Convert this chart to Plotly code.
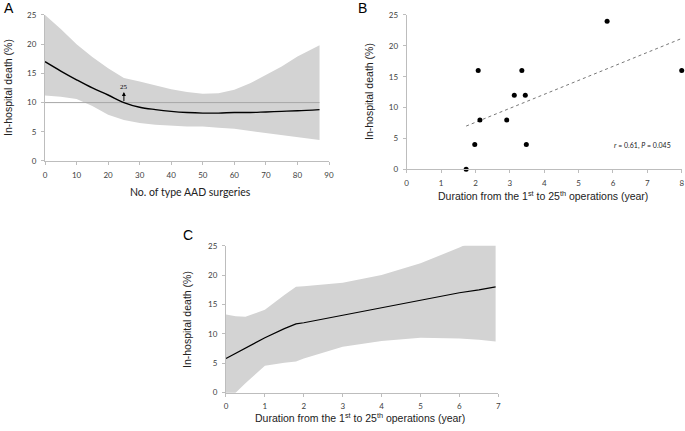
import plotly.graph_objects as go

# Panel A: mortality vs number of surgeries (spline fit with CI)
a_x = [0, 5, 10, 15, 20, 25, 30, 35, 40, 45, 50, 55, 60, 65, 70, 75, 80, 87]
a_fit = [17.0, 15.4, 13.9, 12.5, 11.3, 10.0, 9.2, 8.8, 8.5, 8.3, 8.2, 8.2, 8.3, 8.3, 8.4, 8.5, 8.6, 8.8]
a_upper = [25.0, 22.6, 20.0, 17.8, 15.9, 14.2, 13.6, 12.9, 12.3, 11.8, 11.5, 11.6, 12.2, 13.3, 14.7, 16.2, 17.9, 19.8]
a_lower = [11.2, 11.0, 10.6, 9.4, 7.9, 7.0, 6.5, 6.2, 6.0, 5.9, 5.9, 5.7, 5.5, 5.2, 4.8, 4.5, 4.1, 3.6]
a_ref = 10
a_mark = 25

# Panel B: duration vs mortality scatter
b_x = [1.73, 1.98, 2.08, 2.13, 2.91, 3.13, 3.35, 3.45, 3.48, 5.83, 8.0]
b_y = [0, 4, 16, 8, 8, 12, 16, 12, 4, 24, 16]
b_trend_x = [1.73, 8.0]
b_trend_y = [7.0, 21.2]

# Panel C: duration vs mortality (fit with CI)
c_x = [0, 0.25, 0.5, 1.0, 1.5, 1.8, 2.0, 3.0, 4.0, 5.0, 6.0, 6.5, 6.93]
c_fit = [5.8, 6.7, 7.6, 9.35, 10.9, 11.7, 11.9, 13.2, 14.5, 15.8, 17.0, 17.5, 18.0]
c_upper = [13.3, 13.0, 12.9, 14.1, 16.6, 18.0, 18.1, 18.7, 20.0, 22.0, 24.7, 26.2, 27.5]
c_lower = [-1.6, 0.0, 1.6, 4.6, 5.1, 5.3, 5.8, 7.8, 8.8, 9.35, 9.2, 9.0, 8.7]

band = "#d3d3d3"
axcol = "#bdbdbd"
tickfont = dict(family="Lato", size=8, color="#404040")
titlefont = dict(family="Liberation Sans", size=10.5, color="#222")
W, H = 685, 431

fig = go.Figure()

# A
fig.add_trace(go.Scatter(x=a_x + a_x[::-1], y=a_upper + a_lower[::-1], fill="toself",
                         fillcolor=band, line=dict(width=0), xaxis="x", yaxis="y", hoverinfo="skip"))
fig.add_trace(go.Scatter(x=[a_x[0], a_x[-1]], y=[a_ref, a_ref], mode="lines",
                         line=dict(color="#a8a8a8", width=1), xaxis="x", yaxis="y"))
fig.add_trace(go.Scatter(x=a_x, y=a_fit, mode="lines", line=dict(color="black", width=1.4, shape="spline"),
                         xaxis="x", yaxis="y"))

# B
fig.add_trace(go.Scatter(x=b_trend_x, y=b_trend_y, mode="lines", line=dict(color="#777", width=1, dash="dot"),
                         xaxis="x2", yaxis="y2"))
fig.add_trace(go.Scatter(x=b_x, y=b_y, mode="markers", marker=dict(color="black", size=5),
                         cliponaxis=False, xaxis="x2", yaxis="y2"))

# C
fig.add_trace(go.Scatter(x=c_x + c_x[::-1], y=c_upper + c_lower[::-1], fill="toself",
                         fillcolor=band, line=dict(width=0), xaxis="x3", yaxis="y3", hoverinfo="skip"))
fig.add_trace(go.Scatter(x=c_x, y=c_fit, mode="lines", line=dict(color="black", width=1.2),
                         xaxis="x3", yaxis="y3"))

def axstyle(**kw):
    d = dict(showgrid=False, zeroline=False, showline=True, linecolor=axcol, linewidth=1,
             ticks="outside", ticklen=3, tickcolor=axcol, tickfont=tickfont, automargin=False,
             ticklabelstandoff=3)
    d.update(kw)
    return d

fig.update_layout(
    width=W, height=H, margin=dict(l=0, r=0, t=0, b=0),
    paper_bgcolor="white", plot_bgcolor="white", showlegend=False,
    xaxis=axstyle(domain=[0.0657, 0.4803], range=[0, 90], dtick=10, anchor="y"),
    yaxis=axstyle(domain=[0.6265, 0.9652], range=[0, 25], dtick=5, anchor="x"),
    xaxis2=axstyle(domain=[0.5937, 0.9952], range=[0, 8], dtick=1, anchor="y2"),
    yaxis2=axstyle(domain=[0.6072, 0.9652], range=[0, 25], dtick=5, anchor="x2"),
    xaxis3=axstyle(domain=[0.3299, 0.7275], range=[0, 7], dtick=1, anchor="y3"),
    yaxis3=axstyle(domain=[0.0889, 0.4299], range=[0, 25], dtick=5, anchor="x3"),
)


def label(text, px, py, font, angle=0, xanchor="center"):
    fig.add_annotation(text=text, x=px / W, y=1 - py / H, xref="paper", yref="paper", showarrow=False,
                       xanchor=xanchor, yanchor="middle", textangle=angle, font=font)


panel_font = dict(family="Liberation Sans", size=14, color="black")
label("A", 2, 8, panel_font, xanchor="left")
label("B", 356, 8, panel_font, xanchor="left")
label("C", 181, 235, panel_font, xanchor="left")

# axis titles
label("In-hospital death (%)", 8, 88, titlefont, angle=-90)
label("In-hospital death (%)", 369, 92, titlefont, angle=-90)
label("In-hospital death (%)", 187, 319, titlefont, angle=-90)
label("No. of type AAD surgeries", 190, 192, dict(family="Lato", size=10.5, color="#222"))
label("Duration from the 1<sup>st</sup> to 25<sup>th</sup> operations (year)", 543, 195, titlefont)
label("Duration from the 1<sup>st</sup> to 25<sup>th</sup> operations (year)", 360, 417, titlefont)

# arrow marking 25 surgeries
fig.add_annotation(x=a_mark, y=11.8, ax=a_mark, ay=a_ref, xref="x", yref="y", axref="x", ayref="y",
                   text="", showarrow=True, arrowhead=2, arrowsize=0.8, arrowwidth=1, arrowcolor="black")
fig.add_annotation(x=a_mark, y=12.7, xref="x", yref="y", text=str(a_mark), showarrow=False,
                   font=dict(family="Liberation Serif", size=7, color="black"))

fig.add_annotation(x=7.75, y=3.8, xref="x2", yref="y2", xanchor="right", showarrow=False,
                   text="<i>r</i> = 0.61, <i>P</i> = 0.045", font=dict(family="Lato", size=7, color="#222"))

# page body has a default 8px margin; drop it so the figure sits at the window origin
fig.write_html("out.html", config={"displayModeBar": False},
               post_script="document.body.style.margin='0';")
